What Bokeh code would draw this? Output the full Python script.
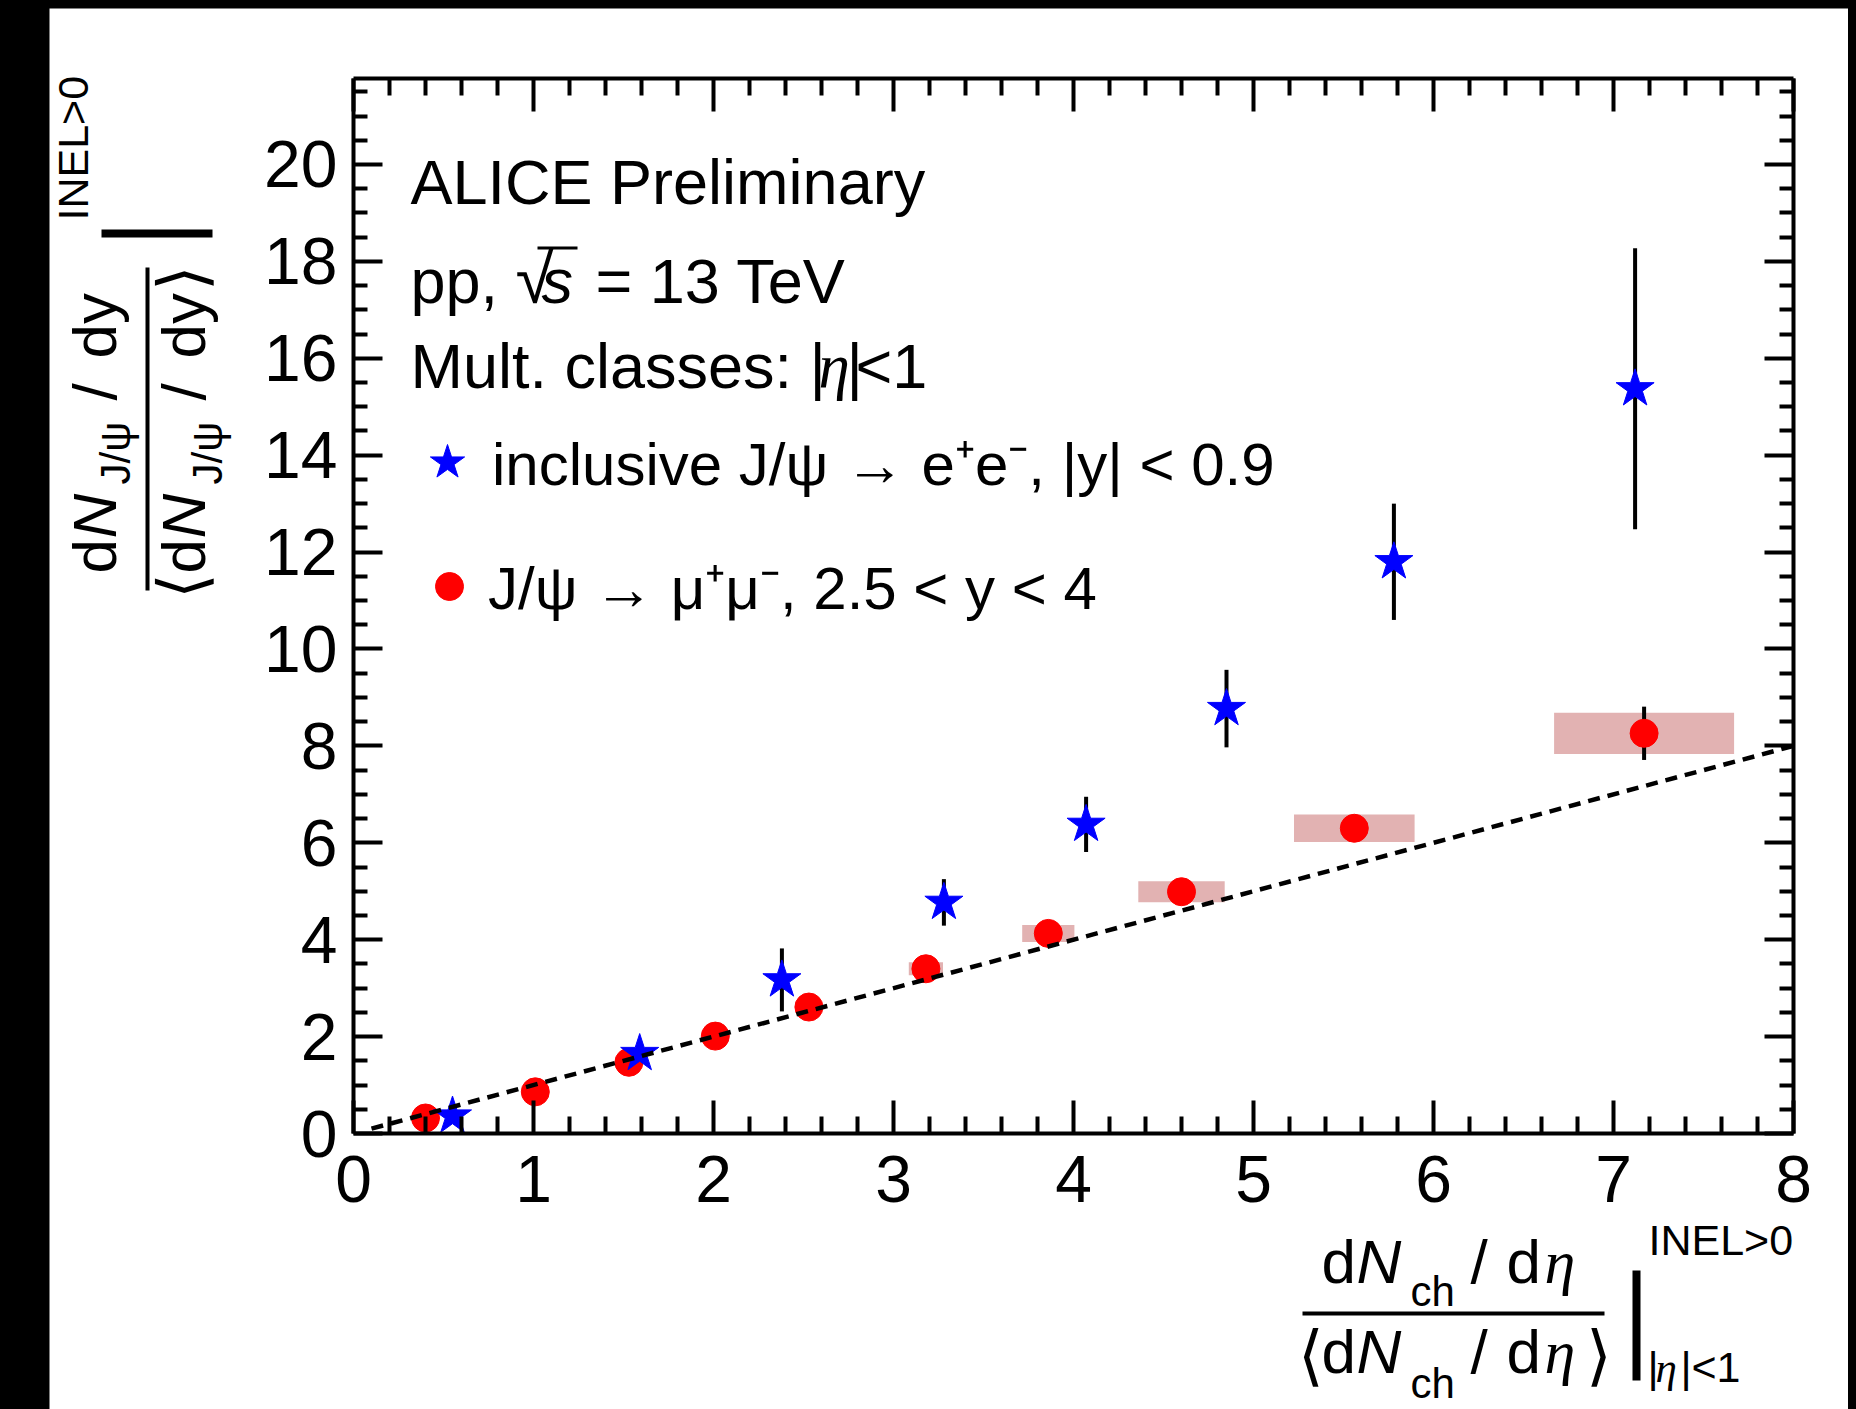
import math
from bokeh.plotting import figure
from bokeh.models import (Range1d, LinearAxis, FixedTicker, Label, Legend, LegendItem,
                          BoxAnnotation, CustomJSTickFormatter, ColumnDataSource)
from bokeh.embed import file_html
from bokeh.resources import INLINE

# ---------------- data ----------------
x_ticks = [0, 1, 2, 3, 4, 5, 6, 7, 8]
y_ticks = [0, 2, 4, 6, 8, 10, 12, 14, 16, 18, 20]

# inclusive J/psi -> e+e-, |y|<0.9
ee_x = [0.55, 1.59, 2.38, 3.28, 4.07, 4.85, 5.78, 7.12]
ee_y = [0.36, 1.65, 3.17, 4.77, 6.38, 8.77, 11.80, 15.37]
ee_stat = [0.10, 0.20, 0.65, 0.48, 0.57, 0.80, 1.20, 2.90]

# J/psi -> mu+mu-, 2.5<y<4
mm_x = [0.40, 1.01, 1.53, 2.01, 2.53, 3.18, 3.86, 4.60, 5.56, 7.17]
mm_y = [0.32, 0.86, 1.47, 2.01, 2.61, 3.40, 4.13, 4.99, 6.30, 8.26]
mm_stat = [0.02, 0.03, 0.04, 0.05, 0.07, 0.09, 0.12, 0.16, 0.24, 0.55]
mm_sys_x = [0.01, 0.02, 0.03, 0.04, 0.06, 0.095, 0.145, 0.24, 0.335, 0.50]
mm_sys_y = [0.02, 0.04, 0.06, 0.08, 0.11, 0.135, 0.175, 0.215, 0.285, 0.425]

# linear reference y = x
ref_x = [0.1, 8.0]
ref_y = [0.1, 8.0]

X_MAX = 8.0
Y_MAX = 21.775

SANS = "Liberation Sans"
SERIF = "Liberation Serif"

# ---------------- geometry (page pixels) ----------------
PX0, PY0 = 49, 8            # figure top-left on the page
W, H = 1799, 1401           # figure size
X0, Y0 = 353.0, 1133.0      # page pixel of data origin
SX = 180.0                  # px per x unit
SY = 1055.0 / Y_MAX         # px per y unit

def dx(X):
    return (X - X0) / SX

def dy(Y):
    return (Y0 - Y) / SY

p = figure(width=W, height=H,
           x_range=Range1d(dx(PX0), dx(PX0 + W)),
           y_range=Range1d(dy(PY0 + H), dy(PY0)),
           output_backend="svg", toolbar_location=None,
           min_border_left=0, min_border_right=0, min_border_top=0, min_border_bottom=0)
p.margin = (PY0, 0, 0, PX0)
p.background_fill_color = "white"
p.border_fill_color = "white"
p.outline_line_color = None
p.xgrid.visible = False
p.ygrid.visible = False

xminor = [round(i * 0.2, 2) for i in range(0, 41) if i % 5 != 0]
yminor = [round(i * 0.5, 2) for i in range(0, 44) if i % 4 != 0]

def style_axis(ax, major, minor, tin, tmin, bounds, loc, labels=True):
    ax.ticker = FixedTicker(ticks=major, minor_ticks=minor)
    ax.bounds = bounds
    ax.fixed_location = loc
    ax.axis_line_width = 4
    ax.axis_line_color = "black"
    ax.major_tick_in = tin
    ax.major_tick_out = 0
    ax.minor_tick_in = tmin
    ax.minor_tick_out = 0
    ax.major_tick_line_width = 4
    ax.minor_tick_line_width = 4
    ax.major_tick_line_color = "black"
    ax.minor_tick_line_color = "black"
    if labels:
        ax.major_label_text_font = SANS
        ax.major_label_text_font_size = "66px"
        ax.major_label_text_color = "black"
    else:
        ax.formatter = CustomJSTickFormatter(code="return ''")
        ax.major_label_text_font_size = "1px"
        ax.major_label_standoff = 0

xb = p.xaxis[0]
yl = p.yaxis[0]
style_axis(xb, x_ticks, xminor, 33, 17, (0, X_MAX), 0)
style_axis(yl, y_ticks, yminor, 29, 14, (0, Y_MAX), 0)
xb.major_label_standoff = 22
yl.major_label_standoff = 16

xt = LinearAxis()
style_axis(xt, x_ticks, xminor, 33, 17, (0, X_MAX), Y_MAX, labels=False)
p.add_layout(xt, "above")
yr = LinearAxis()
style_axis(yr, y_ticks, yminor, 29, 14, (0, Y_MAX), X_MAX, labels=False)
p.add_layout(yr, "right")

# ---------------- data marks ----------------
mm_src = ColumnDataSource(dict(
    x=mm_x, y=mm_y,
    l=[a - b for a, b in zip(mm_x, mm_sys_x)], r=[a + b for a, b in zip(mm_x, mm_sys_x)],
    b=[a - b for a, b in zip(mm_y, mm_sys_y)], t=[a + b for a, b in zip(mm_y, mm_sys_y)],
    lo=[a - b for a, b in zip(mm_y, mm_stat)], hi=[a + b for a, b in zip(mm_y, mm_stat)]))
ee_src = ColumnDataSource(dict(
    x=ee_x, y=ee_y,
    lo=[a - b for a, b in zip(ee_y, ee_stat)], hi=[a + b for a, b in zip(ee_y, ee_stat)]))

p.quad(left="l", right="r", bottom="b", top="t", source=mm_src,
       fill_color="#e2b2b2", line_color=None)
p.segment(x0="x", y0="lo", x1="x", y1="hi", source=mm_src, line_color="black", line_width=4)
p.segment(x0="x", y0="lo", x1="x", y1="hi", source=ee_src, line_color="black", line_width=4)
r_mm = p.scatter("x", "y", source=mm_src, marker="circle", size=28,
                 fill_color="#ff0000", line_color="#ff0000")
r_ee = p.scatter("x", "y", source=ee_src, marker="star", size=40,
                 fill_color="#0000ff", line_color="#0000ff")
p.line(ref_x, ref_y, line_color="black", line_width=4.5, line_dash="12 8")

# ---------------- legends ----------------
def make_legend(label, rend, gw, gh, loc, standoff):
    lg = Legend(items=[LegendItem(label=label, renderers=[rend])], location=loc,
                glyph_width=gw, glyph_height=gh, padding=0, margin=0, spacing=0,
                label_standoff=standoff, border_line_color=None,
                background_fill_alpha=0, label_text_font=SANS,
                label_text_font_size="60px", label_text_color="black",
                label_height=20)
    p.add_layout(lg, "center")

make_legend("inclusive J/\u03c8 \u2192 e\u207ae\u207b, |y| < 0.9", r_ee, 90, 90, (353, 902), 0)
make_legend("J/\u03c8 \u2192 \u03bc\u207a\u03bc\u207b, 2.5 < y < 4", r_mm, 70, 76, (365, 782), 4)

# ---------------- texts ----------------
R = math.pi / 2
K = 0.35   # baseline correction (fraction of font size)

def T(X, Y, s, size, style="normal", font=SANS, rot=False):
    if rot:
        ax_, ay_ = X - K * size, Y
    else:
        ax_, ay_ = X, Y - K * size
    p.add_layout(Label(x=dx(ax_), y=dy(ay_), text=s, text_font=font,
                       text_font_size=f"{size}px", text_font_style=style,
                       text_color="black", angle=R if rot else 0.0,
                       text_align="left", text_baseline="alphabetic"))

def BAR(X1, X2, Y1, Y2):
    p.add_layout(BoxAnnotation(left=dx(X1), right=dx(X2), top=dy(Y1), bottom=dy(Y2),
                               fill_color="black", fill_alpha=1.0, line_color=None,
                               line_alpha=0))

T(410, 204, "ALICE Preliminary", 63)
T(410, 303, "pp,", 63)
T(515, 303, "\u221a", 70)
T(541, 303, "s", 63, "italic")
BAR(537, 577, 246, 249)
T(595, 303, "= 13 TeV", 63)
T(410, 388, "Mult. classes: |", 63)
T(818, 388, "\u03b7", 63, "italic", SERIF)
T(846, 388, "|", 63)
T(855, 388, "<1", 63)

F, FS, FA = 62, 42, 43
# y-axis title (rotated, reads bottom to top)
T(116, 573, "d", F, rot=True)
T(116, 538, "N", F, "italic", rot=True)
T(130, 484, "J/\u03c8", FS, rot=True)
T(116, 400, "/", F, rot=True)
T(116, 358, "dy", F, rot=True)
BAR(145, 149, 267, 590)
T(205, 598, "\u27e8", 66, rot=True)
T(205, 573, "d", F, rot=True)
T(205, 538, "N", F, "italic", rot=True)
T(222, 484, "J/\u03c8", FS, rot=True)
T(205, 400, "/", F, rot=True)
T(205, 358, "dy", F, rot=True)
T(205, 290, "\u27e9", 66, rot=True)
BAR(101, 212, 229, 237)
T(88, 220, "INEL>0", FA, rot=True)

# x-axis title
for yb, ys in ((1283, 1306), (1373, 1398)):
    T(1321, yb, "d", F)
    T(1356, yb, "N", F, "italic")
    T(1410, ys, "ch", FS)
    T(1470, yb, "/", F)
    T(1506, yb, "d", F)
    T(1544, yb, "\u03b7", F, "italic", SERIF)
T(1297, 1378, "\u27e8", 66)
T(1585, 1378, "\u27e9", 66)
BAR(1302, 1604, 1311, 1315)
BAR(1632, 1640, 1270, 1380)
T(1648, 1255, "INEL>0", FA)
T(1647, 1382, "|", FA)
T(1655, 1382, "\u03b7", FA, "italic", SERIF)
T(1680, 1382, "|", FA)
T(1691, 1382, "<1", FA)

html = file_html(p, INLINE, title="ALICE J/psi multiplicity")
html = html.replace("</head>",
                    "<style>html,body{margin:0;padding:0;background:#000;overflow:hidden;}</style></head>", 1)
with open("out.html", "w") as f:
    f.write(html)
